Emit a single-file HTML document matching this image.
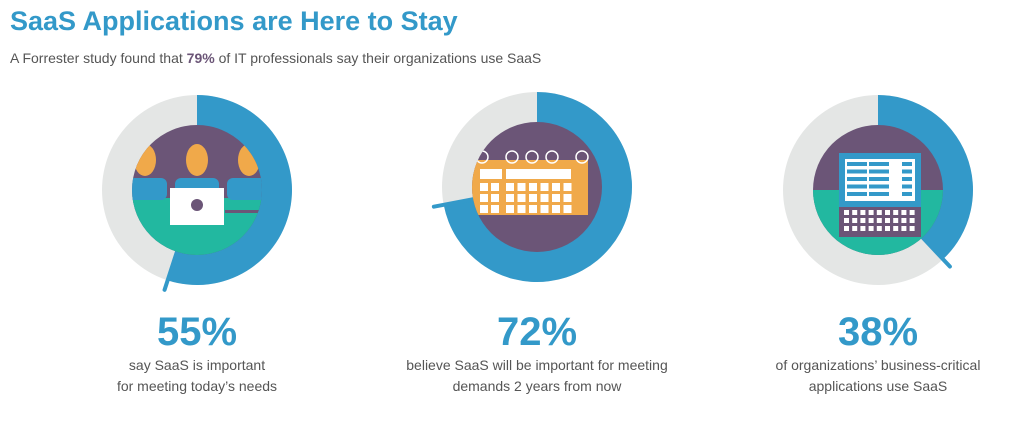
<!DOCTYPE html>
<html><head><meta charset="utf-8"><style>
body{margin:0;width:1024px;height:417px;background:#fff;font-family:"Liberation Sans",sans-serif;overflow:hidden}
</style></head><body>
<svg id="c" width="1024" height="417" xmlns="http://www.w3.org/2000/svg">
<text x="10" y="30" font-size="27" font-weight="bold" fill="#3399c9" font-family="Liberation Sans, sans-serif">SaaS Applications are Here to Stay</text>
<text x="10" y="63" font-size="14" fill="#555" font-family="Liberation Sans, sans-serif">A Forrester study found that <tspan font-weight="bold" fill="#6b5577">79%</tspan> of IT professionals say their organizations use SaaS</text>
<g id="donuts"></g>
</svg>
<script>
const percents=[55,72,38];
const captionsA=["say SaaS is important","believe SaaS will be important for meeting","of organizations’ business-critical"];
const captionsB=["for meeting today’s needs","demands 2 years from now","applications use SaaS"];
const NS="http://www.w3.org/2000/svg";
const cx=[197,537,878], cy=[190,187,190];
const g=document.getElementById('donuts');
function mk(t,a,p){const e=document.createElementNS(NS,t);for(const k in a)e.setAttribute(k,a[k]);(p||g).appendChild(e);return e;}
function pt(x,y,r,deg){const a=(deg-90)*Math.PI/180;return [x+r*Math.cos(a),y+r*Math.sin(a)];}
percents.forEach((p,i)=>{
  const x=cx[i],y=cy[i],R=95,r=65;
  const grp=mk('g',{});
  
  
  const bg=mk('circle',{cx:x,cy:y,r:R,fill:'#e4e6e5'},grp);
  
  
  const ang=p*3.6;const [ex,ey]=pt(x,y,R,ang);
  const arc=mk('path',{d:`M${x},${y} L${x},${y-R} A${R},${R} 0 ${ang>180?1:0} 1 ${ex},${ey} Z`,fill:'#3399c9'},grp);
  
  
  const [tx,ty]=pt(x,y,R+10,ang);const [sx,sy]=pt(x,y,r,ang);
  const tick=mk('line',{x1:sx,y1:sy,x2:tx,y2:ty,stroke:'#3399c9','stroke-width':4,'stroke-linecap':'round'},grp);
  
  
  const clip=mk('clipPath',{id:'cl'+i},grp);mk('circle',{cx:x,cy:y,r:r},clip);
  const ill=mk('g',{'clip-path':`url(#cl${i})`},grp);
  
  
  if(i==0){
    mk('rect',{x:x-r,y:y-r,width:2*r,height:2*r,fill:'#6b5577'},ill);
    mk('rect',{x:x-r,y:y+8,width:2*r,height:r,fill:'#22b8a0'},ill);
    [-52,0,52].forEach(d=>{mk('ellipse',{cx:x+d,cy:y-30,rx:11,ry:16,fill:'#f0a94a'},ill);mk('rect',{x:x+d-22,y:y-12,width:44,height:22,rx:6,fill:'#3399c9'},ill);});
    mk('rect',{x:x+28,y:y+20,width:40,height:3,fill:'#6b5577'},ill);
    mk('rect',{x:x-27,y:y-2,width:54,height:37,fill:'#fff'},ill);
    mk('circle',{cx:x,cy:y+15,r:6,fill:'#6b5577'},ill);
  }else if(i==1){
    mk('rect',{x:x-r,y:y-r,width:2*r,height:2*r,fill:'#6b5577'},ill);
    mk('rect',{x:x-66,y:y-27,width:117,height:55,fill:'#f0a94a'},ill);
    [-55,-25,-5,15,45].forEach(d=>mk('circle',{cx:x+d,cy:y-30,r:6,fill:'none',stroke:'#fff','stroke-width':1.5},ill));
    mk('rect',{x:x-57,y:y-18,width:22,height:10,fill:'#fff'},ill);
    mk('rect',{x:x-31,y:y-18,width:65,height:10,fill:'#fff'},ill);
    for(let rr=0;rr<3;rr++){[-57,-46].forEach(cxx=>mk('rect',{x:x+cxx,y:y-4+rr*11,width:8,height:8,fill:'#fff'},ill));for(let c=0;c<6;c++)mk('rect',{x:x-31+c*11.5,y:y-4+rr*11,width:8,height:8,fill:'#fff'},ill);}
  }else{
    mk('rect',{x:x-r,y:y-r,width:2*r,height:2*r,fill:'#6b5577'},ill);
    mk('rect',{x:x-r,y:y,width:2*r,height:r,fill:'#22b8a0'},ill);
    mk('rect',{x:x-39,y:y-37,width:82,height:54,fill:'#3399c9'},ill);
    mk('rect',{x:x-33,y:y-31,width:70,height:42,fill:'#fff'},ill);
    for(let rr=0;rr<5;rr++){mk('rect',{x:x-31,y:y-28+rr*7.5,width:20,height:4,fill:'#3399c9'},ill);mk('rect',{x:x-9,y:y-28+rr*7.5,width:20,height:4,fill:'#3399c9'},ill);mk('rect',{x:x+24,y:y-28+rr*7.5,width:10,height:4,fill:'#3399c9'},ill);}
    mk('rect',{x:x-39,y:y+17,width:82,height:30,fill:'#6b5577'},ill);
    for(let rr=0;rr<3;rr++)for(let c=0;c<9;c++)mk('rect',{x:x-34+c*8.2,y:y+20+rr*8,width:5,height:5,fill:'#fff'},ill);
  }
  const big=mk('text',{x:x,y:345,'text-anchor':'middle','font-size':40,'font-weight':'bold',fill:'#3399c9','font-family':'Liberation Sans, sans-serif'});
  big.textContent=p+'%';
  
  
  [captionsA[i],captionsB[i]].forEach((t,k)=>{const c=mk('text',{x:x,y:370+k*21,'text-anchor':'middle','font-size':14,fill:'#555','font-family':'Liberation Sans, sans-serif'});c.textContent=t;
    
    });
});
</script>
</body></html>
